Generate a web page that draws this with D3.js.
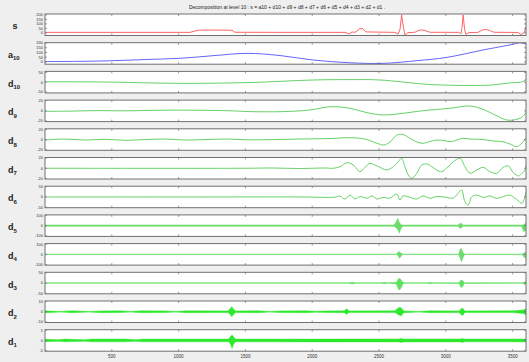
<!DOCTYPE html>
<html>
<head>
<meta charset="utf-8">
<script src="https://cdn.jsdelivr.net/npm/d3@7"></script>
<style>
  html, body { margin: 0; padding: 0; background: #efefef; }
  svg { display: block; font-family: "Liberation Sans", Arial, sans-serif; }
</style>
</head>
<body>
<div id="chart"></div>
<script>
// signal length and x ticks
const sampleCount = 3600;
const xTicks = [500, 1000, 1500, 2000, 2500, 3000, 3500];
const title = "Decomposition at level 10 : s = a10 + d10 + d9 + d8 + d7 + d6 + d5 + d4 + d3 + d2 + d1 .";

// y ticks per panel
const sTicks = [0, 50, 100, 150, 200];
const a10Ticks = [0, 50, 100, 150, 200];
const d10Ticks = [-50, 0, 50];
const d9Ticks = [-20, 0, 20];
const d8Ticks = [-20, 0, 20];
const d7Ticks = [-20, 0, 20];
const d6Ticks = [-50, 0, 50];
const d5Ticks = [-100, 0, 100];
const d4Ticks = [-100, 0, 100];
const d3Ticks = [-50, 0, 50];
const d2Ticks = [-10, 0, 10];
const d1Ticks = [-5, 0, 5];

// signal s  [sample, value]
const sPts = [[0,5],[1085,5],[1145,28],[1197,31],[1347,30],[1400,28],[1422,6],[1908,5],[2245,5],[2275,-12],
  [2298,10],[2320,5],[2335,20],[2357,48],[2380,45],[2402,10],[2619,5],[2642,-15],[2657,40],[2669,200],
  [2683,60],[2694,-25],[2717,2],[2769,6],[2792,25],[2822,33],[2851,22],[2881,6],[3098,5],[3113,-12],
  [3121,60],[3130,200],[3140,40],[3151,-20],[3173,3],[3241,5],[3270,30],[3300,38],[3330,25],[3360,6],
  [3540,4],[3562,-20],[3585,0],[3600,60]];

// approximation a10
const a10Pts = [[0,5],[262,7],[486,13],[748,26],[1010,39],[1272,68],[1512,91],[1759,68],[2006,21],
  [2283,-8],[2530,-14],[2785,14],[3009,49],[3278,126],[3502,186],[3555,202],[3600,186]];

// details d10 .. d6  [sample, value]
const d10Pts = [[0,2],[412,1],[1010,-6],[1534,-2],[2006,11],[2283,13],[2507,11],[2881,-12],[3181,-17],
  [3330,-15],[3480,-4],[3577,3],[3600,16]];
const d9Pts = [[0,-1],[200,-0.5],[400,0.5],[600,0],[800,1],[1000,1.5],[1200,1],[1400,0],[1534,-1.5],
  [1781,-1.5],[1983,1.7],[2133,8],[2283,5],[2410,-3.6],[2530,-8],[2679,-4.8],[2829,0.3],[3031,5],
  [3181,9.5],[3278,3],[3383,-10],[3458,-18],[3533,-16.5],[3577,-11],[3600,-2]];
const d8Pts = [[0,-1],[150,1],[300,-1],[450,0.5],[600,-1.5],[750,0],[900,1],[1050,-1],[1200,0],[1350,1],
  [1534,-0.5],[1908,1],[2133,2],[2283,3.6],[2395,1],[2485,-7.3],[2537,-10.6],[2582,-4.8],[2634,8.9],
  [2679,9.9],[2732,2.4],[2784,-4.8],[2829,-7.3],[2881,-3.8],[2934,-0.9],[2986,-1.9],[3031,-4.2],
  [3083,-1],[3128,2.4],[3181,1],[3278,0],[3353,-2.8],[3428,-4.2],[3480,-8.7],[3533,-14],[3570,-6.7],[3600,3]];
const d7Pts = [[0,0],[1500,0],[1700,0.5],[1900,-0.5],[2100,0.5],[2158,0],[2208,3],[2258,10.8],[2308,6.3],
  [2357,-6.7],[2395,1.8],[2432,9.7],[2470,6.3],[2520,0],[2557,-3.4],[2607,3],[2644,12.8],[2669,19.4],
  [2694,3],[2719,-13.2],[2744,-19.6],[2782,-9.9],[2819,6.3],[2857,8.3],[2894,3],[2932,-3.4],[2969,-6.7],
  [3006,0],[3056,12.8],[3106,19.4],[3143,3],[3181,-9.9],[3231,-3.4],[3281,1.8],[3330,-6.7],[3380,-9.9],
  [3430,1.8],[3468,4.4],[3505,-8.7],[3545,-15],[3570,-9.9],[3592,-3.4],[3600,6.3]];
const d6Pts = [[0,0],[1160,0],[1908,0],[2170,-1],[2208,4],[2245,-10],[2283,9],[2320,-10],[2357,2],
  [2410,-6],[2447,5],[2485,-10],[2530,-2],[2582,-6],[2632,14],[2657,-15],[2679,5],[2732,-2],[2782,-10],
  [2829,5],[2881,-6],[2934,2],[3009,-2],[3054,-6],[3091,17],[3118,34],[3143,-23],[3168,-39],[3193,0],
  [3231,9],[3281,-2],[3330,5],[3380,-7],[3430,2],[3480,9],[3530,-12],[3570,-31],[3592,2],[3600,26]];

// details d5 .. d1 as envelopes  [sample, low, high]
const d5Band = [[0,-6,6],[2610,-6,6],[2628,-20,35],[2640,-40,72],[2652,-75,30],[2665,-25,10],[2680,-6,6],
  [3090,-6,6],[3102,-22,18],[3115,-25,24],[3128,-6,6],[3565,-6,6],[3585,-60,10],[3600,-40,30]];
const d4Band = [[0,-2.5,2.5],[2630,-2.5,2.5],[2642,-12,22],[2653,-39,26],[2665,-18,10],[2678,-2.5,2.5],
  [3095,-2.5,2.5],[3106,-30,45],[3116,-72,59],[3128,-35,20],[3140,-2.5,2.5],[3570,-2.5,2.5],[3588,-30,15],[3600,-40,20]];
const d3Band = [[0,-1.2,1.2],[2270,-1.2,1.2],[2300,-4,4],[2330,-1.2,1.2],[2515,-1.2,1.2],[2540,-3.5,3.5],
  [2565,-1.2,1.2],[2630,-4,4],[2648,-34,23],[2662,-28,18],[2678,-4,4],[2695,-1.2,1.2],[2860,-1.5,1.5],
  [2880,-3.5,3.5],[2900,-1.2,1.2],[3100,-2,2],[3113,-21,15],[3125,-18,12],[3138,-2,2],[3570,-1.2,1.2],[3600,-8,6]];
const d2Band = [[0,-0.9,0.9],[120,-0.35,0.35],[200,-0.9,0.9],[330,-0.35,0.35],[420,-0.9,0.8],[560,-0.8,0.9],
  [640,-0.35,0.35],[720,-0.9,0.9],[900,-0.8,0.8],[980,-0.35,0.35],[1060,-0.9,0.9],[1370,-0.8,0.8],[1388,-3,3.5],
  [1398,-5,5],[1408,-3,3],[1425,-0.8,0.8],[1600,-0.9,0.9],[1680,-0.35,0.35],[1760,-0.8,0.8],[1950,-0.9,0.9],
  [2030,-0.4,0.4],[2100,-0.8,0.8],[2240,-0.9,0.9],[2258,-2.5,3],[2275,-0.8,0.8],[2620,-0.8,0.9],[2645,-3,4],
  [2665,-4,4],[2685,-0.9,0.8],[2800,-0.35,0.35],[2880,-0.9,0.9],[3100,-0.8,0.8],[3115,-3,3],[3128,-3.5,3.5],
  [3142,-0.8,0.8],[3500,-0.8,0.9],[3580,-1.6,1.6],[3600,-3,3]];
const d1Band = [[0,-0.6,0.6],[100,-0.35,0.35],[150,-0.65,0.65],[300,-0.35,0.35],[350,-0.65,0.65],[600,-0.65,0.7],
  [680,-0.35,0.35],[730,-0.65,0.65],[1375,-0.65,0.65],[1390,-2,2],[1400,-3.9,2.7],[1410,-2,1.8],[1425,-0.65,0.65],
  [2000,-0.7,0.65],[2650,-0.7,0.7],[2665,-1,1],[2680,-0.7,0.7],[3110,-0.7,0.7],[3125,-0.95,0.95],[3140,-0.65,0.65],[3600,-0.7,0.7]];

const W = 529, H = 362;
const left = 45, right = 526, firstTop = 14, step = 28.7, panelH = 21.5;

const panels = [
  { name: "s",  sub: "",   type: "line", data: sPts,   domain: [-30, 210], ticks: sTicks,   color: "#ff6464" },
  { name: "a",  sub: "10", type: "line", data: a10Pts, domain: [-23, 203], ticks: a10Ticks, color: "#6464ff" },
  { name: "d",  sub: "10", type: "line", data: d10Pts, domain: [-55, 55],  ticks: d10Ticks, color: "#66d066" },
  { name: "d",  sub: "9",  type: "line", data: d9Pts,  domain: [-21, 21],  ticks: d9Ticks,  color: "#66d066" },
  { name: "d",  sub: "8",  type: "line", data: d8Pts,  domain: [-21, 21],  ticks: d8Ticks,  color: "#66d066" },
  { name: "d",  sub: "7",  type: "line", data: d7Pts,  domain: [-21, 21],  ticks: d7Ticks,  color: "#66d066" },
  { name: "d",  sub: "6",  type: "line", data: d6Pts,  domain: [-52, 52],  ticks: d6Ticks,  color: "#66d066" },
  { name: "d",  sub: "5",  type: "band", data: d5Band, domain: [-105, 105], ticks: d5Ticks, color: "#6ddc6d" },
  { name: "d",  sub: "4",  type: "band", data: d4Band, domain: [-105, 105], ticks: d4Ticks, color: "#6ddc6d" },
  { name: "d",  sub: "3",  type: "band", data: d3Band, domain: [-52, 52],  ticks: d3Ticks,  color: "#5fe05f" },
  { name: "d",  sub: "2",  type: "band", data: d2Band, domain: [-10.5, 10.5], ticks: d2Ticks, color: "#2ee82e" },
  { name: "d",  sub: "1",  type: "band", data: d1Band, domain: [-5.25, 5.25], ticks: d1Ticks, color: "#2ee82e" }
];

const svg = d3.select("#chart").append("svg")
  .attr("width", W).attr("height", H);

svg.append("rect").attr("width", W).attr("height", H).attr("fill", "#efefef");

svg.append("text")
  .attr("x", 287).attr("y", 8.5)
  .attr("text-anchor", "middle")
  .attr("font-size", 5).attr("fill", "#222")
  .text(title);

const x = d3.scaleLinear().domain([0, sampleCount]).range([left, right]);

panels.forEach((p, i) => {
  const top = firstTop + i * step;
  const y = d3.scaleLinear().domain(p.domain).range([top + panelH, top]);
  const g = svg.append("g");

  g.append("rect")
    .attr("x", left).attr("y", top)
    .attr("width", right - left).attr("height", panelH)
    .attr("fill", "#fff");

  const clipId = "clip" + i;
  svg.append("clipPath").attr("id", clipId)
    .append("rect").attr("x", left).attr("y", top)
    .attr("width", right - left).attr("height", panelH);

  const plot = g.append("g").attr("clip-path", "url(#" + clipId + ")");

  if (p.type === "line") {
    const line = d3.line()
      .x(d => x(d[0])).y(d => y(d[1]))
      .curve(p.name === "s" ? d3.curveLinear : d3.curveCatmullRom);
    plot.append("path").datum(p.data)
      .attr("d", line)
      .attr("fill", "none")
      .attr("stroke", p.color)
      .attr("stroke-width", 1);
  } else {
    const area = d3.area()
      .x(d => x(d[0])).y0(d => y(d[1])).y1(d => y(d[2]));
    plot.append("path").datum(p.data)
      .attr("d", area)
      .attr("fill", p.color)
      .attr("stroke", p.color)
      .attr("stroke-width", 0.5);
  }

  // x ticks, top and bottom, inside
  xTicks.forEach(t => {
    g.append("line").attr("x1", x(t)).attr("x2", x(t))
      .attr("y1", top).attr("y2", top + 2).attr("stroke", "#555").attr("stroke-width", 0.6);
    g.append("line").attr("x1", x(t)).attr("x2", x(t))
      .attr("y1", top + panelH - 2).attr("y2", top + panelH).attr("stroke", "#555").attr("stroke-width", 0.6);
  });

  // y ticks, left and right, inside
  p.ticks.forEach(v => {
    g.append("line").attr("x1", left).attr("x2", left + 2)
      .attr("y1", y(v)).attr("y2", y(v)).attr("stroke", "#555").attr("stroke-width", 0.6);
    g.append("line").attr("x1", right - 2).attr("x2", right)
      .attr("y1", y(v)).attr("y2", y(v)).attr("stroke", "#555").attr("stroke-width", 0.6);
    g.append("text")
      .attr("x", left - 2).attr("y", y(v) + 1.4)
      .attr("text-anchor", "end")
      .attr("font-size", 4).attr("fill", "#333")
      .text(v);
  });

  g.append("rect")
    .attr("x", left).attr("y", top)
    .attr("width", right - left).attr("height", panelH)
    .attr("fill", "none").attr("stroke", "#707070").attr("stroke-width", 1);

  // panel label
  const lab = g.append("text")
    .attr("x", p.name === "s" ? 12.5 : 8)
    .attr("y", top + panelH / 2 + 4.5)
    .attr("font-size", 9).attr("font-weight", "bold").attr("fill", "#222");
  lab.append("tspan").text(p.name);
  if (p.sub) {
    lab.append("tspan").attr("dy", 2.5).attr("font-size", 6).text(p.sub);
  }

  // x tick labels on the last panel
  if (i === panels.length - 1) {
    xTicks.forEach(t => {
      g.append("text")
        .attr("x", x(t)).attr("y", top + panelH + 7)
        .attr("text-anchor", "middle")
        .attr("font-size", 4.5).attr("fill", "#333")
        .text(t);
    });
  }
});
</script>
</body>
</html>
